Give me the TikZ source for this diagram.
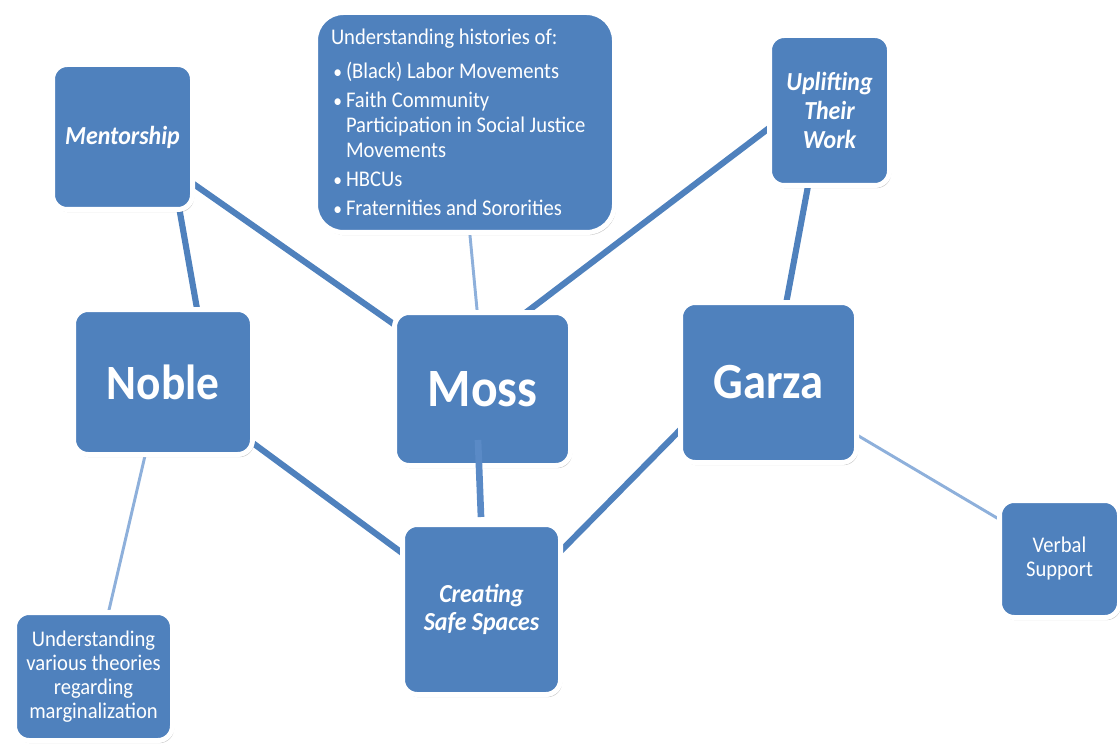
\documentclass[tikz,border=0pt]{standalone}
\usepackage{fontspec}
\usepackage{graphicx}
\setmainfont{Carlito}[FakeStretch=0.92]
\usetikzlibrary{shadows,backgrounds}
\definecolor{boxblue}{HTML}{4F81BD}
\definecolor{thinblue}{HTML}{8EB0DB}
\definecolor{mossline}{HTML}{5A8AC6}
\newcommand{\bitem}{\hspace*{1.8pt}\makebox[9.45pt][l]{\raisebox{0.3pt}{\scalebox{0.85}{\textbullet}}}}
\newcommand{\bcont}{\hspace*{11.25pt}}
\begin{document}
\begin{tikzpicture}[x=0.75pt,y=-0.75pt,
 box/.style={rectangle, rounded corners=11pt, fill=boxblue, draw=white, line width=3.75pt,
   text=white, align=center, inner sep=0pt,
   drop shadow={shadow xshift=1.2pt, shadow yshift=-2pt, fill=black, opacity=0.22}},
 mainlink/.style={draw=boxblue, line width=4.6pt},
 sidelink/.style={draw=thinblue, line width=2.2pt},
 namefont/.style={font=\fontsize{#1}{48pt}\selectfont\bfseries},
 topicfont/.style={font=\fontsize{19.5pt}{21.5pt}\selectfont\bfseries\itshape},
 plainfont/.style={font=\fontsize{16.8pt}{18pt}\selectfont},
]
\useasboundingbox (0,0) rectangle (1120,745);

% boxes
\node[box, rounded corners=21pt, minimum width=224.25pt, minimum height=165pt,
  font=\fontsize{16.8pt}{18.75pt}\selectfont] (research) at (465,122.5) {%
\begin{minipage}{201pt}\raggedright
Understanding histories of:\\[6.75pt]
\bitem(Black) Labor Movements\\[3pt]
\bitem Faith Community\\
\bcont Participation in Social Justice\\
\bcont Movements\\[3pt]
\bitem HBCUs\\[3pt]
\bitem Fraternities and Sororities
\end{minipage}};

\node[box, topicfont, minimum width=105pt, minimum height=108.75pt] (ment) at (122.5,137) {Mentorship};
\node[box, topicfont, minimum width=90pt, minimum height=112.5pt] (upl) at (829.5,110.5) {Uplifting\\Their\\Work};
\node[box, namefont=37pt, minimum width=134.25pt, minimum height=108.75pt] (noble) at (163,382) {Noble};
\node[box, namefont=40.5pt, minimum width=132pt, minimum height=114.75pt] (moss) at (482.5,389) {Moss};
\node[box, namefont=38pt, minimum width=132pt, minimum height=120pt] (garza) at (768.5,382.5) {Garza};
\node[box, topicfont, minimum width=118.5pt, minimum height=127.5pt] (creating) at (481.5,609.5) {Creating\\Safe Spaces};
\node[box, plainfont, minimum width=90pt, minimum height=87.75pt] (verbal) at (1059.5,559) {Verbal\\Support};
\node[box, plainfont, minimum width=118.5pt, minimum height=96pt] (und) at (93.5,676.5) {Understanding\\various theories\\regarding\\marginalization};

% connectors behind the boxes
\begin{scope}[on background layer]
\draw[mainlink] ([shift={(53.5,53)}]ment.center) -- ([shift={(36,-62)}]noble.center);
\draw[mainlink] ([shift={(57.5,37.5)}]ment.center) -- ([shift={(-72.5,-53.5)}]moss.center);
\draw[sidelink] ([shift={(4,102.5)}]research.center) -- ([shift={(-4.5,-69)}]moss.center);
\draw[mainlink] ([shift={(-50.5,10)}]upl.center) -- ([shift={(37.5,-72)}]moss.center);
\draw[mainlink] ([shift={(-20,67.5)}]upl.center) -- ([shift={(16,-70.5)}]garza.center);
\draw[sidelink] ([shift={(-15.5,63)}]noble.center) -- ([shift={(12,-51.5)}]und.center);
\draw[mainlink] ([shift={(77,51.6)}]noble.center) -- ([shift={(-66.5,-47)}]creating.center);
\draw[mainlink] ([shift={(-73.5,32.3)}]garza.center) -- ([shift={(66.5,-45.5)}]creating.center);
\draw[sidelink] ([shift={(76.5,45.4)}]garza.center) -- ([shift={(-49.5,-33.3)}]verbal.center);
\end{scope}

% connector drawn over Moss
\draw[draw=mossline, line width=5pt] ([shift={(-4.5,51)}]moss.center) -- ([shift={(-0.5,-92.5)}]creating.center);
\end{tikzpicture}
\end{document}
